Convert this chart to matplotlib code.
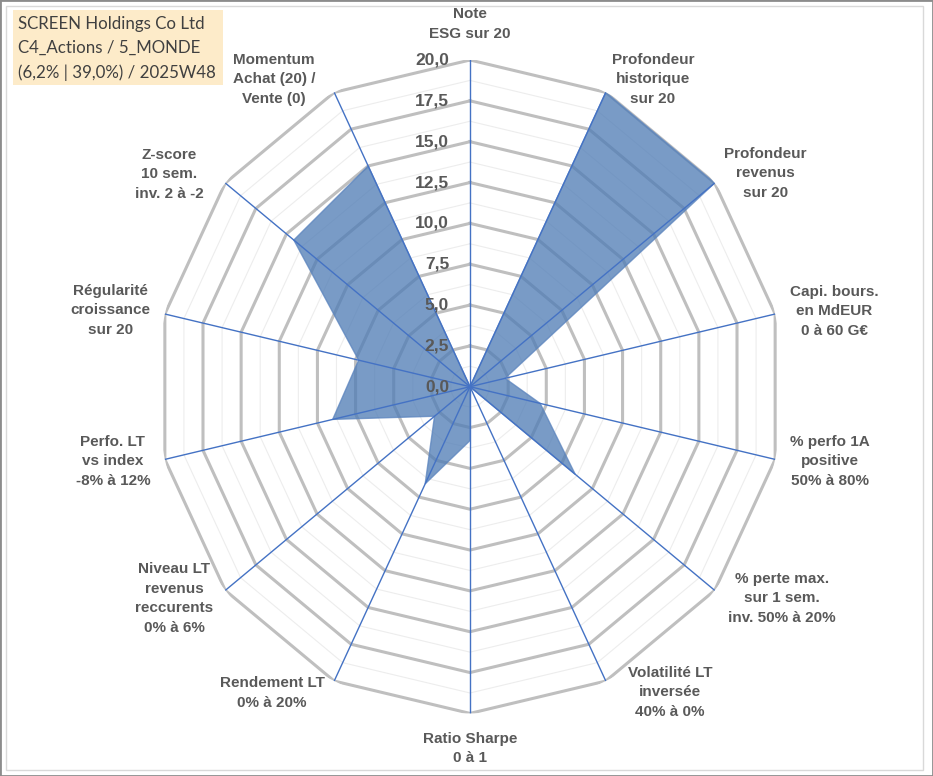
import numpy as np
import matplotlib.pyplot as plt
from matplotlib.patches import Rectangle

# axis labels, clockwise from the top
labels = [
    "Note\nESG sur 20",
    "Profondeur\nhistorique\nsur 20",
    "Profondeur\nrevenus\nsur 20",
    "Capi. bours.\nen MdEUR\n0 à 60 G€",
    "% perfo 1A\npositive\n50% à 80%",
    "% perte max.\nsur 1 sem.\ninv. 50% à 20%",
    "Volatilité LT\ninversée\n40% à 0%",
    "Ratio Sharpe\n0 à 1",
    "Rendement LT\n0% à 20%",
    "Niveau LT\nrevenus\nreccurents\n0% à 6%",
    "Perfo. LT\nvs index\n-8% à 12%",
    "Régularité\ncroissance\nsur 20",
    "Z-score\n10 sem.\ninv. 2 à -2",
    "Momentum\nAchat (20) /\nVente (0)",
]
values = [0.0, 20.0, 20.0, 2.3, 4.6, 8.6, 0.0, 3.3, 6.6, 2.9, 9.0, 7.3, 14.4, 15.0]

ticks = np.arange(0, 20.01, 2.5)
tick_labels = [f"{t:.1f}".replace(".", ",") for t in ticks]

title_lines = ["SCREEN Holdings Co Ltd", "C4_Actions / 5_MONDE", "(6,2% | 39,0%) / 2025W48"]

# label offsets from the end of each axis, in pixels
label_offsets = [(0, 36), (47, 13), (51, 10), (59, 3), (55, -2), (67, -8), (64, -11),
                 (0, -35), (-62, -12), (-51, -8), (-52, -2), (-54, 4), (-56, 9), (-60, 13)]

W, H = 933, 776
fig = plt.figure(figsize=(W / 100, H / 100), dpi=100)

# plot centre and radii in pixels (the Excel chart is slightly squeezed horizontally)
cx, cy = 470, 386.7
rx, ry = 313, 326.7
ax = fig.add_axes([(cx - rx) / W, (H - cy - ry) / H, 2 * rx / W, 2 * ry / H], projection="polar")
ax.set_aspect("auto")
ax.set_theta_zero_location("N")
ax.set_theta_direction(-1)
ax.set_ylim(0, 20)
ax.set_axis_off()

n = len(labels)
theta = np.arange(n) * 2 * np.pi / n
ring = np.append(theta, theta[0])

## polygon grid: thick rings every 2.5, faint ones in between
for r in np.arange(1.25, 20.01, 1.25):
    major = abs(r / 2.5 - round(r / 2.5)) < 1e-9
    ax.plot(ring, [r] * (n + 1), color="#BFBFBF" if major else "#EDEDED",
            lw=2.2 if major else 0.8, zorder=1, solid_joinstyle="miter")

ax.fill(ring, np.append(values, values[0]), facecolor="#4F7CB5", alpha=0.76,
        edgecolor="#5B84BE", lw=1.0, zorder=2)

for t in theta:
    ax.plot([t, t], [0, 20], color="#4472C4", lw=1.0, zorder=3)

for t, lab in zip(ticks, tick_labels):
    ax.annotate(lab, xy=(0, t), xytext=(-21, 0), textcoords="offset pixels",
                ha="right", va="center", fontsize=12.5, fontweight="bold",
                family="Liberation Sans", color="#595959", annotation_clip=False, zorder=5)

for t, lab, off in zip(theta, labels, label_offsets):
    ax.annotate(lab, xy=(t, 20), xytext=off, textcoords="offset pixels",
                ha="center", va="center", multialignment="center", linespacing=1.5,
                fontsize=11, fontweight="bold", family="Liberation Sans",
                color="#595959", annotation_clip=False, zorder=5)

# title box
fig.patches.append(Rectangle((13 / W, 1 - 85 / H), 210 / W, 75 / H, transform=fig.transFigure,
                             facecolor="#FDEBC9", edgecolor="none", zorder=0))
fig.text(18 / W, 1 - 48.5 / H, "\n".join(title_lines), ha="left", va="center",
         fontsize=12.2, family="Lato", color="#404040", linespacing=1.62)

# double frame
fig.patches.append(Rectangle((0, 0), 1, 1, transform=fig.transFigure, fill=False,
                             edgecolor="#8C8C8C", lw=2))
fig.patches.append(Rectangle((6 / W, 6 / H), 917 / W, 764 / H, transform=fig.transFigure,
                             fill=False, edgecolor="#D9D9D9", lw=1))

fig.savefig("out.png", dpi=100)
